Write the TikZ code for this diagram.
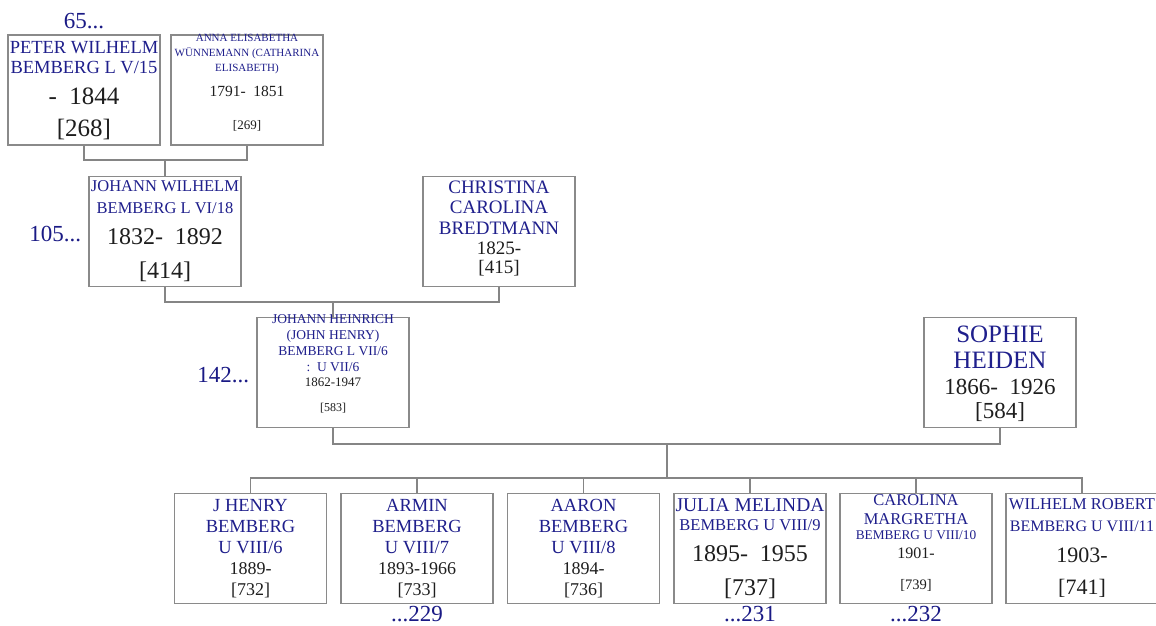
\documentclass[tikz,border=0pt]{standalone}
\usepackage{fontspec}
\setmainfont{Liberation Serif}
\usetikzlibrary{positioning}
\definecolor{namecol}{HTML}{1F1F8C}
\definecolor{refcol}{HTML}{1A1A85}
\definecolor{datecol}{HTML}{1E1E1E}
\definecolor{boxline}{HTML}{8A8A8A}
\definecolor{linkcol}{HTML}{858585}
\newcommand{\pname}[2]{{\fontsize{#1}{#1}\selectfont\textcolor{namecol}{#2}}}
\newcommand{\pyear}[2]{{\fontsize{#1}{#1}\selectfont #2}}

\begin{document}
\begin{tikzpicture}[x=1pt, y=1pt,
    person/.style={draw=boxline, line width=1.3pt, fill=white, minimum width=152pt, minimum height=110pt, inner sep=0pt},
    txt/.style={align=center, inner sep=0pt, text=datecol},
    ref/.style={inner sep=0pt, text=refcol, font=\fontsize{23}{23}\selectfont},
    link/.style={draw=linkcol, line width=1.2pt}
  ]
    \useasboundingbox (0,0) rectangle (1156,626);
    % generation V
    \node[person] (P1) at (84,536) {};
    \node[person] (A1) at (247,536) {};
    \node[txt, font=\fontsize{18.5}{20}\selectfont, below=7pt of P1.north] (P1t) {\pname{18.5}{PETER WILHELM}\\\pname{18.5}{BEMBERG L V/15}\\[11pt]\pyear{25}{-\ \ 1844}\\[12pt]\pyear{25}{[268]}};
    \node[txt, font=\fontsize{11}{15}\selectfont, below=0pt of A1.north] (A1t) {\pname{11}{ANNA ELISABETHA}\\\pname{11}{WÜNNEMANN (CATHARINA}\\\pname{11}{ELISABETH)}\\[10pt]\pyear{15.5}{1791-\ \ 1851}\\[18pt]\pyear{13}{[269]}};
    % generation VI
    \node[person] (JW) at (165,394.5) {};
    \node[person] (CC) at (499,394.5) {};
    \node[txt, font=\fontsize{16.5}{22}\selectfont, below=5pt of JW.north] (JWt) {\pname{16.5}{JOHANN WILHELM}\\\pname{16.5}{BEMBERG L VI/18}\\[9pt]\pyear{24}{1832-\ \ 1892}\\[12pt]\pyear{24}{[414]}};
    \node[txt, font=\fontsize{19}{20.5}\selectfont, below=4.5pt of CC.north] (CCt) {\pname{19}{CHRISTINA}\\\pname{19}{CAROLINA}\\\pname{19}{BREDTMANN}\\\pyear{19}{1825-}\\[-1.5pt]\pyear{19}{[415]}};
    % generation VII
    \node[person] (JH) at (333,253.5) {};
    \node[person] (SH) at (1000,253.5) {};
    \node[txt, font=\fontsize{13.5}{15.75}\selectfont, below=-2pt of JH.north] (JHt) {\pname{13.5}{JOHANN HEINRICH}\\\pname{13.5}{(JOHN HENRY)}\\\pname{13.5}{BEMBERG L VII/6}\\\pname{13.5}{:\ \ U VII/6}\\\pyear{13}{1862-1947}\\[9pt]\pyear{12}{[583]}};
    \node[txt, font=\fontsize{25}{26}\selectfont, below=9pt of SH.north] (SHt) {\pname{25}{SOPHIE}\\\pname{25}{HEIDEN}\\\pyear{23}{1866-\ \ 1926}\\[-2pt]\pyear{23}{[584]}};
    % generation VIII
    \node[person] (C1) at (250.5,77.5) {};
    \node[person] (C2) at (417,77.5) {};
    \node[person] (C3) at (583.5,77.5) {};
    \node[person] (C4) at (750,77.5) {};
    \node[person] (C5) at (916,77.5) {};
    \node[person] (C6) at (1082,77.5) {};
    \node[txt, font=\fontsize{18.5}{21}\selectfont, below=6pt of C1.north] (C1t) {\pname{18.5}{J HENRY}\\\pname{18.5}{BEMBERG}\\\pname{18.5}{U VIII/6}\\\pyear{18}{1889-}\\\pyear{18}{[732]}};
    \node[txt, font=\fontsize{18.5}{21}\selectfont, below=6pt of C2.north] (C2t) {\pname{18.5}{ARMIN}\\\pname{18.5}{BEMBERG}\\\pname{18.5}{U VIII/7}\\\pyear{18}{1893-1966}\\\pyear{18}{[733]}};
    \node[txt, font=\fontsize{18.5}{21}\selectfont, below=6pt of C3.north] (C3t) {\pname{18.5}{AARON}\\\pname{18.5}{BEMBERG}\\\pname{18.5}{U VIII/8}\\\pyear{18}{1894-}\\\pyear{18}{[736]}};
    \node[txt, font=\fontsize{19.5}{19}\selectfont, below=6pt of C4.north] (C4t) {\pname{19.5}{JULIA MELINDA}\\\pname{16.5}{BEMBERG U VIII/9}\\[12pt]\pyear{24}{1895-\ \ 1955}\\[15pt]\pyear{24}{[737]}};
    \node[txt, font=\fontsize{16.5}{15}\selectfont, below=2pt of C5.north] (C5t) {\pname{16.5}{CAROLINA}\\[4pt]\pname{16.5}{MARGRETHA}\\\pname{13.3}{BEMBERG U VIII/10}\\[4pt]\pyear{16}{1901-}\\[16pt]\pyear{14.5}{[739]}};
    \node[txt, font=\fontsize{16.5}{22}\selectfont, below=6pt of C6.north] (C6t) {\pname{16.5}{WILHELM ROBERT}\\\pname{16}{BEMBERG U VIII/11}\\[9pt]\pyear{22}{1903-}\\[10pt]\pyear{22}{[741]}};
    % cross references
    \node[ref, above=5pt of P1] (r65) {65...};
    \node[ref, left=7pt of JW, yshift=-3pt] (r105) {105...};
    \node[ref, left=7pt of JH, yshift=-3pt] (r142) {142...};
    \node[ref, below=2pt of C2] (r229) {...229};
    \node[ref, below=2pt of C4] (r231) {...231};
    \node[ref, below=2pt of C5] (r232) {...232};
    % family lines
    \coordinate (m1) at (165,466);
    \coordinate (m2) at (333,324);
    \coordinate (m3) at (667,182);
    \coordinate (sib) at (667,148);
    \draw[link] (P1.south) |- (m1) -| (A1.south);
    \draw[link] (m1) -- (JW.north);
    \draw[link] (JW.south) |- (m2) -| (CC.south);
    \draw[link] (m2) -- (JH.north);
    \draw[link] (JH.south) |- (m3) -| (SH.south);
    \draw[link] (m3) -- (sib);
    \draw[link] (C1.north) |- (sib) -| (C6.north);
    \draw[link] (C2.north) -- (C2.north |- sib);
    \draw[link] (C3.north) -- (C3.north |- sib);
    \draw[link] (C4.north) -- (C4.north |- sib);
    \draw[link] (C5.north) -- (C5.north |- sib);
  \end{tikzpicture}
\end{document}
